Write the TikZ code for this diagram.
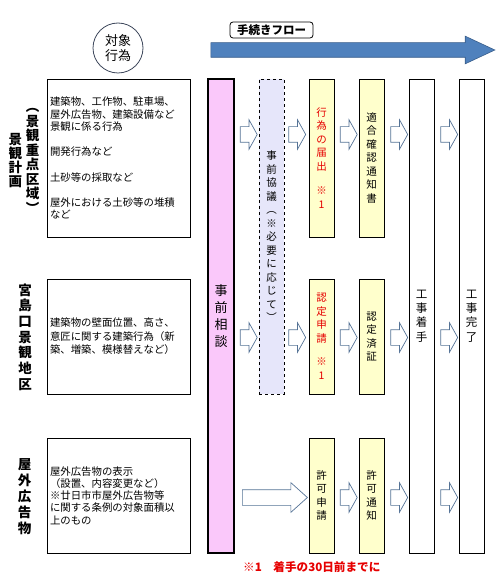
\documentclass[tikz,border=0pt]{standalone}
\usepackage{fontspec}
\setmainfont{Noto Sans CJK JP}
\usepackage{xcolor}
\usepackage{tikz}
\usetikzlibrary{shapes.arrows}

\definecolor{consultpink}{RGB}{250,200,250}
\definecolor{priorlilac}{RGB}{230,230,250}
\definecolor{docyellow}{RGB}{255,255,204}
\definecolor{flowblue}{RGB}{79,129,189}
\definecolor{flowedge}{RGB}{56,93,138}
\definecolor{arrowedge}{RGB}{85,115,150}
\definecolor{circleedge}{RGB}{60,70,90}
\definecolor{notered}{RGB}{230,0,0}

\begin{document}
\begin{tikzpicture}[
  x=1pt, y=-1pt,
  every node/.style={inner sep=0pt},
  casebox/.style={draw,line width=0.8pt,minimum width=143pt,text width=137pt,align=left,
    font=\fontsize{10.4}{12.6}\selectfont},
  stepcol/.style={draw,line width=0.8pt,minimum width=25pt,align=center,
    font=\fontsize{10.5}{13.5}\selectfont},
  docbox/.style={stepcol,fill=docyellow},
  areaname/.style={align=center,font=\bfseries\fontsize{13.5}{14.5}\selectfont},
  blk/.style={single arrow,draw=arrowedge,fill=white,line width=0.7pt,inner ysep=7.5pt,
    single arrow head extend=7pt,single arrow tip angle=122,minimum height=17pt}
]
  \useasboundingbox (0,0) rectangle (500,580);

  \node[draw=circleedge,circle,line width=0.8pt,minimum size=50pt,align=center,
        font=\fontsize{13}{15}\selectfont] (target) at (118,48) {対象\\行為};
  \node[single arrow,fill=flowblue,draw=flowedge,line width=0.6pt,inner ysep=7pt,
        single arrow head extend=6.5pt,single arrow tip angle=50,minimum height=284pt]
        (flow) at (345,50) {};
  \node[draw,rounded corners=3pt,line width=0.8pt,fill=white,minimum width=83pt,minimum height=16pt,
        font=\bfseries\fontsize{11.5}{12}\selectfont] (flowlabel) at (271.5,30) {手続きフロー};

  \node[casebox,minimum height=158pt] (scene) at (118.5,158)
    {建築物、工作物、駐車場、\\屋外広告物、建築設備など\\景観に係る行為\\[12.6pt]
     開発行為など\\[12.6pt]土砂等の採取など\\[12.6pt]屋外における土砂等の堆積\\など};
  \node[casebox,minimum height=115pt,font=\fontsize{10.4}{13.5}\selectfont] (district) at (118.5,336.5)
    {建築物の壁面位置、高さ、\\意匠に関する建築行為（新\\築、増築、模様替えなど）};
  \node[casebox,minimum height=115pt,font=\fontsize{10.4}{12.3}\selectfont] (ads) at (118.5,495.5)
    {屋外広告物の表示\\（設置、内容変更など）\\※廿日市市屋外広告物等\\に関する条例の対象面積以\\上のもの};

  \node[areaname,font=\bfseries\fontsize{13.5}{13.8}\selectfont] (planname) at (15.5,160.5) {景\\観\\計\\画};
  \node[areaname] (keyname) at (32.5,161) {︵\\景\\観\\重\\点\\区\\域\\︶};
  \node[areaname,font=\bfseries\fontsize{13.5}{15.7}\selectfont] (districtname) at (25,337) {宮\\島\\口\\景\\観\\地\\区};
  \node[areaname,font=\bfseries\fontsize{13.5}{16}\selectfont] (adsname) at (24.5,497) {屋\\外\\広\\告\\物};

  \node[stepcol,fill=consultpink,line width=1.6pt,minimum width=26pt,minimum height=474pt,
        font=\fontsize{13}{17}\selectfont] (consult) at (221,316) {事\\前\\相\\談};
  \node[stepcol,fill=priorlilac,dashed,minimum height=315pt] (prior) at (271.5,236.5)
    {事\\前\\協\\議\\︵\\※\\必\\要\\に\\応\\じ\\て\\︶};

  \node[docbox,minimum height=158pt,text=notered] (notice) at (321.5,158) {行\\為\\の\\届\\出\\[11pt]※\\1};
  \node[docbox,minimum height=115pt,text=notered] (certapply) at (321.5,336.5) {認\\定\\申\\請\\[10pt]※\\1};
  \node[docbox,minimum height=115pt] (permitapply) at (321.5,495.5) {許\\可\\申\\請};
  \node[docbox,minimum height=158pt] (conform) at (371.5,158) {適\\合\\確\\認\\通\\知\\書};
  \node[docbox,minimum height=115pt] (certdone) at (371.5,336.5) {認\\定\\済\\証};
  \node[docbox,minimum height=115pt] (permit) at (371.5,495.5) {許\\可\\通\\知};

  \node[stepcol,minimum height=474pt,font=\fontsize{11.5}{14.3}\selectfont] (start) at (421.5,316) {工\\事\\着\\手};
  \node[stepcol,minimum height=474pt,font=\fontsize{11.5}{14.3}\selectfont] (finish) at (471.5,316) {工\\事\\完\\了};

  \foreach \x [count=\i] in {246.5,295,346.5,397,447} {
    \node[blk] (rowa\i) at (\x,134.5) {};
    \node[blk] (rowb\i) at (\x,337.5) {};
  }
  \node[blk,minimum height=65pt,single arrow tip angle=84] (rowc1) at (270.5,497.5) {};
  \foreach \x [count=\i from 2] in {346.5,397,447}
    \node[blk] (rowc\i) at (\x,497.5) {};

  \node[text=notered,anchor=west,font=\bfseries\fontsize{11.6}{12}\selectfont] (footnote) at (243,567)
    {※1　着手の30日前までに};
\end{tikzpicture}
\end{document}
